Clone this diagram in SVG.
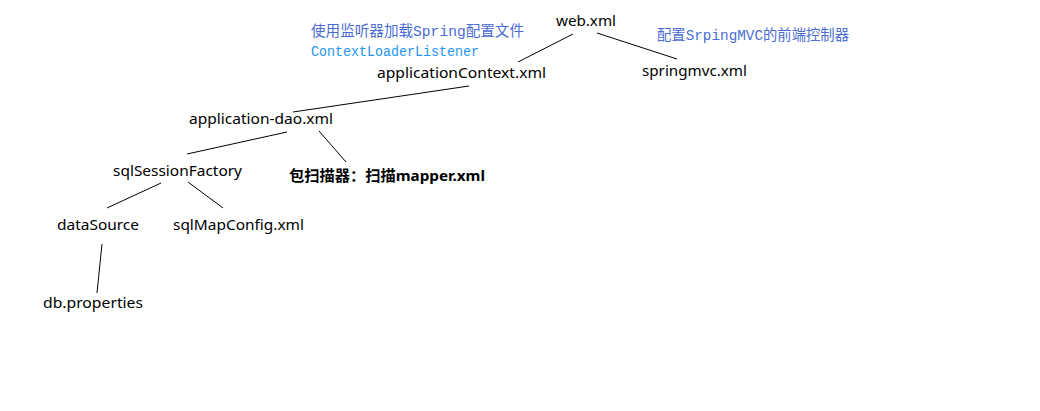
<svg xmlns="http://www.w3.org/2000/svg" width="1040" height="411" viewBox="0 0 1040 411">
<style>
.n{font-family:"Noto Sans","Noto Sans CJK SC",sans-serif;font-size:15px;fill:#000}
.b{font-family:"Noto Sans","Noto Sans CJK SC",sans-serif;font-size:15px;font-weight:bold;fill:#000}
.c1{font-family:"Liberation Mono","Noto Sans CJK SC",monospace;font-size:14.5px;fill:#4a6cd4}
.c2{font-family:"Liberation Mono","Noto Sans CJK SC",monospace;font-size:14.5px;fill:#1e96f0}
.l{stroke:#000;stroke-width:1;fill:none}
</style>
<rect width="1040" height="411" fill="#fff"/>
<g id="connectors">
<line class="l" x1="573" y1="34" x2="518" y2="62"/>
<line class="l" x1="597" y1="33" x2="677" y2="59"/>
<line class="l" x1="469" y1="86" x2="293" y2="112"/>
<line class="l" x1="287" y1="132" x2="187" y2="154"/>
<line class="l" x1="319" y1="131" x2="346" y2="162"/>
<line class="l" x1="161" y1="183" x2="107" y2="208"/>
<line class="l" x1="188" y1="182" x2="223" y2="208"/>
<line class="l" x1="102" y1="244" x2="97" y2="293"/>
</g>
<g id="note-listener">
<text class="c1" x="311" y="36" textLength="213" lengthAdjust="spacingAndGlyphs">使用监听器加载Spring配置文件</text>
<text class="c2" x="311" y="56" textLength="168" lengthAdjust="spacingAndGlyphs">ContextLoaderListener</text>
</g>
<g id="note-mvc"><text class="c1" x="657" y="40" textLength="192" lengthAdjust="spacingAndGlyphs">配置SrpingMVC的前端控制器</text></g>
<g id="web"><text class="n" x="556" y="26" textLength="60" lengthAdjust="spacingAndGlyphs">web.xml</text></g>
<g id="appctx"><text class="n" x="377" y="78" textLength="169" lengthAdjust="spacingAndGlyphs">applicationContext.xml</text></g>
<g id="springmvc"><text class="n" x="642" y="76" textLength="105" lengthAdjust="spacingAndGlyphs">springmvc.xml</text></g>
<g id="dao"><text class="n" x="189" y="124" textLength="144" lengthAdjust="spacingAndGlyphs">application-dao.xml</text></g>
<g id="sqlsf"><text class="n" x="113" y="176" textLength="129" lengthAdjust="spacingAndGlyphs">sqlSessionFactory</text></g>
<g id="scanner"><text class="b" x="289" y="181" textLength="196" lengthAdjust="spacingAndGlyphs">包扫描器：扫描mapper.xml</text></g>
<g id="datasource"><text class="n" x="57" y="230" textLength="82" lengthAdjust="spacingAndGlyphs">dataSource</text></g>
<g id="sqlmap"><text class="n" x="173" y="230" textLength="131" lengthAdjust="spacingAndGlyphs">sqlMapConfig.xml</text></g>
<g id="dbprops"><text class="n" x="43" y="308" textLength="100" lengthAdjust="spacingAndGlyphs">db.properties</text></g>
</svg>
